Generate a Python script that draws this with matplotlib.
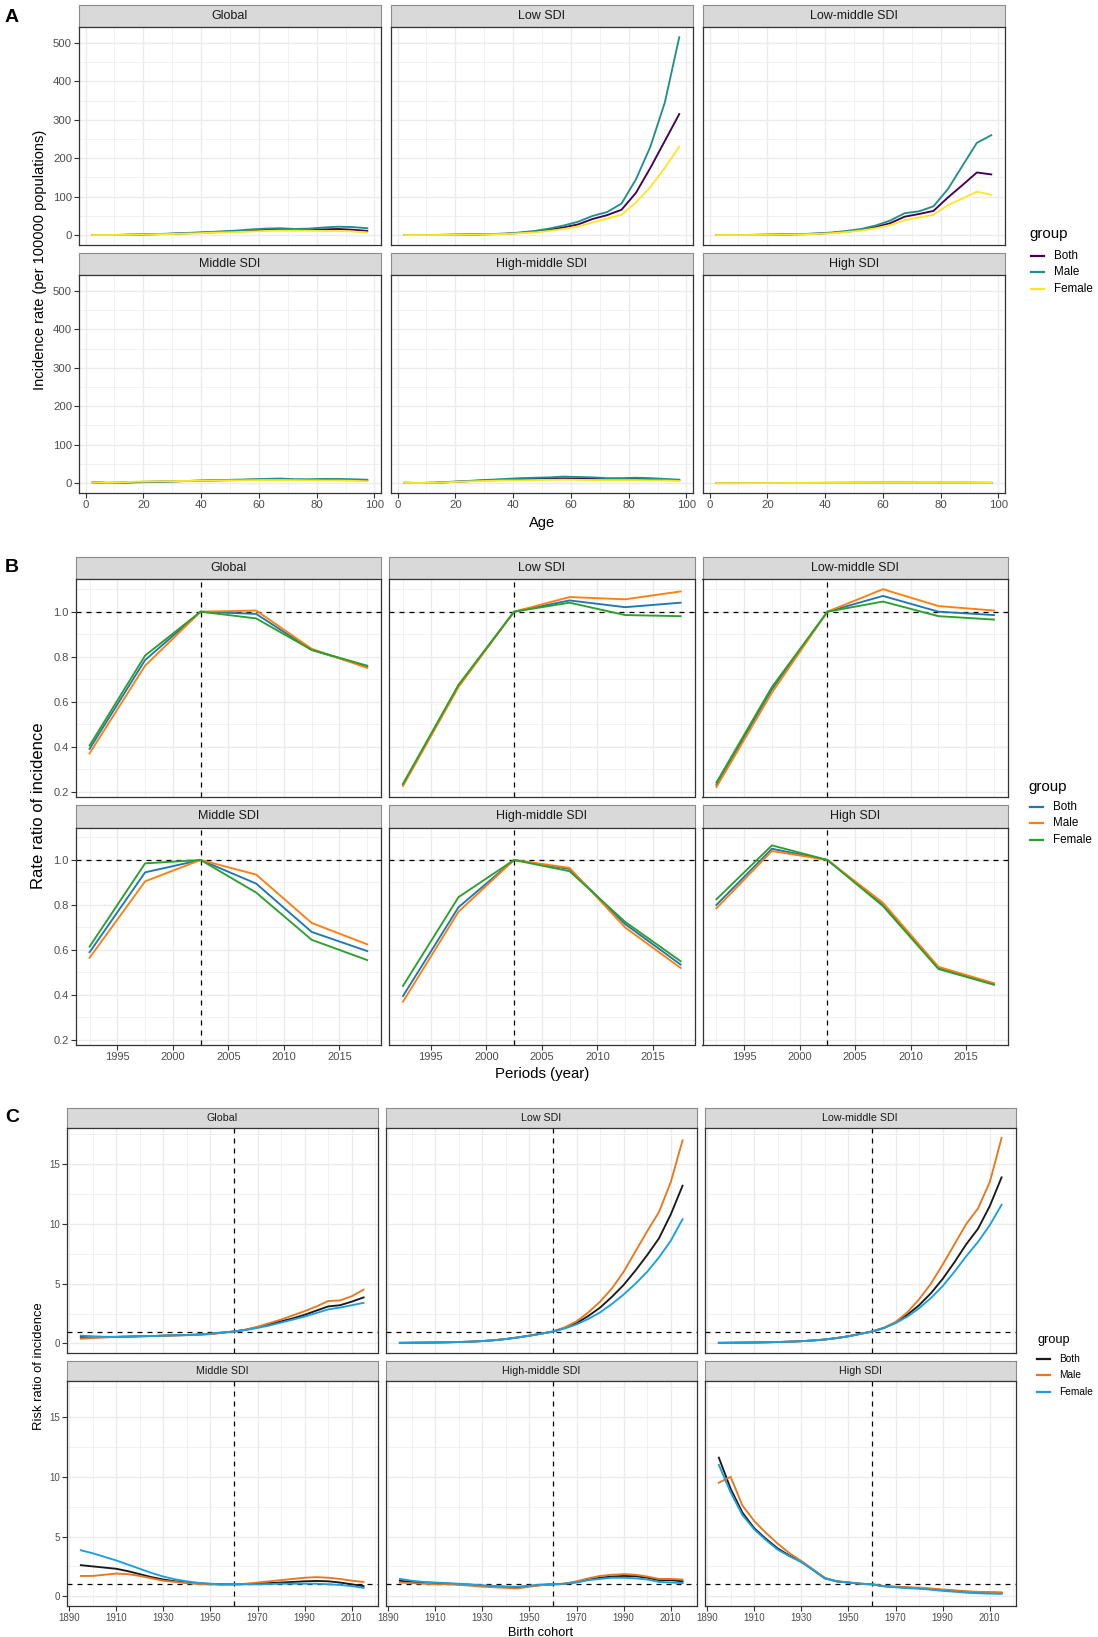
import matplotlib
matplotlib.use("Agg")
import matplotlib.pyplot as plt
from matplotlib.lines import Line2D
import numpy as np

plt.rcParams['font.family'] = ['Liberation Sans', 'DejaVu Sans']

# ---------------- data ----------------
regions = ["Global", "Low SDI", "Low-middle SDI", "Middle SDI", "High-middle SDI", "High SDI"]
groups = ["Both", "Male", "Female"]

# A: incidence rate by age
ages = [2.5 + 5 * i for i in range(20)]
a_global_both = [0.3, 0.3, 0.7, 1.3, 2.2, 3.0, 4.2, 5.5, 7.0, 8.5, 10, 12, 13.5, 15, 14, 14, 15, 16, 14, 11]
a_global_male = [0.3, 0.3, 0.8, 1.5, 2.5, 3.5, 5.0, 6.5, 8.0, 10, 12, 15, 17, 18, 16, 17, 20, 22, 21, 18]
a_global_female = [0.3, 0.3, 0.6, 1.2, 2.0, 2.7, 3.5, 4.5, 6.0, 7.0, 8.0, 9.5, 11, 12, 11.5, 11.5, 11, 11, 9.5, 7]
a_low_both = [0.4, 0.3, 0.4, 0.8, 1.3, 1.8, 2.7, 3.6, 6.0, 9.0, 14, 20, 28, 42, 52, 66, 110, 175, 245, 315]
a_low_male = [0.5, 0.3, 0.5, 1.0, 1.5, 2.0, 3.0, 4.0, 7.0, 11, 17, 25, 35, 50, 60, 82, 145, 230, 345, 515]
a_low_female = [0.3, 0.2, 0.3, 0.6, 1.0, 1.5, 2.3, 3.0, 5.0, 7.0, 11, 16, 22, 33, 43, 53, 85, 125, 175, 230]
a_lowmid_both = [0.3, 0.2, 0.4, 0.8, 1.3, 1.9, 2.6, 3.8, 6, 9, 14, 21, 31, 48, 55, 63, 98, 130, 163, 158]
a_lowmid_male = [0.4, 0.3, 0.5, 1.0, 1.5, 2.2, 3.0, 4.5, 7, 11, 16, 25, 38, 57, 62, 75, 120, 180, 240, 260]
a_lowmid_female = [0.3, 0.2, 0.3, 0.7, 1.1, 1.6, 2.2, 3.2, 5, 8, 12, 18, 26, 39, 46, 53, 78, 95, 113, 105]
a_mid_both = [2.0, 0.8, 1.4, 3.0, 3.8, 4.5, 5.2, 6.0, 6.8, 7.5, 8.0, 8.8, 9.5, 10, 8.8, 8.5, 9, 9, 8, 7]
a_mid_male = [2.0, 0.5, 0.8, 2.0, 3.0, 4.0, 5.0, 6.0, 7.0, 8.0, 9.0, 10, 11, 12, 10, 10, 11, 11, 10, 9]
a_mid_female = [2.0, 1.0, 2.0, 4.0, 4.5, 5.0, 5.5, 6.0, 6.5, 7.0, 7.0, 7.5, 8.0, 8.0, 7.5, 7.0, 7, 7, 6, 5]
a_highmid_both = [0.8, 0.4, 1.0, 2.5, 4.5, 6.0, 7.5, 9.0, 10, 11, 12, 12.5, 12, 11.5, 10.5, 10.5, 11, 10, 9, 7]
a_highmid_male = [1.0, 0.5, 1.0, 3.0, 5.0, 7.0, 9.0, 11, 13, 14, 15, 17, 16, 15, 13, 13, 14, 13, 11, 9]
a_highmid_female = [0.7, 0.3, 0.9, 2.3, 4.0, 5.0, 6.0, 7.0, 7.5, 8.0, 8.5, 9.0, 8.5, 8.0, 8.0, 8.0, 8.0, 7.5, 7, 5.5]
a_high_both = [0.1, 0.1, 0.15, 0.25, 0.35, 0.4, 0.5, 0.6, 0.7, 0.8, 0.85, 0.9, 0.95, 0.95, 0.9, 0.9, 0.9, 0.85, 0.8, 0.7]
a_high_male = [0.1, 0.1, 0.2, 0.3, 0.4, 0.5, 0.6, 0.7, 0.8, 0.9, 1.0, 1.1, 1.1, 1.1, 1.0, 1.0, 1.0, 1.0, 0.9, 0.8]
a_high_female = [0.1, 0.1, 0.1, 0.2, 0.3, 0.35, 0.4, 0.5, 0.6, 0.7, 0.7, 0.75, 0.8, 0.8, 0.8, 0.8, 0.8, 0.75, 0.7, 0.6]

# B: period rate ratio
periods = [1992.5, 1997.5, 2002.5, 2007.5, 2012.5, 2017.5]
b_global_both = [0.39, 0.785, 1.0, 0.99, 0.83, 0.755]
b_global_male = [0.37, 0.76, 1.0, 1.005, 0.835, 0.75]
b_global_female = [0.405, 0.805, 1.0, 0.97, 0.83, 0.76]
b_low_both = [0.23, 0.67, 1.0, 1.05, 1.02, 1.04]
b_low_male = [0.225, 0.665, 1.0, 1.065, 1.055, 1.09]
b_low_female = [0.235, 0.675, 1.0, 1.04, 0.985, 0.98]
b_lowmid_both = [0.23, 0.655, 1.0, 1.07, 1.0, 0.985]
b_lowmid_male = [0.22, 0.64, 1.0, 1.10, 1.025, 1.005]
b_lowmid_female = [0.24, 0.665, 1.0, 1.045, 0.98, 0.965]
b_mid_both = [0.59, 0.945, 1.0, 0.895, 0.68, 0.595]
b_mid_male = [0.565, 0.905, 1.0, 0.935, 0.72, 0.625]
b_mid_female = [0.615, 0.985, 1.0, 0.855, 0.645, 0.555]
b_highmid_both = [0.395, 0.79, 1.0, 0.96, 0.715, 0.535]
b_highmid_male = [0.37, 0.77, 1.0, 0.965, 0.70, 0.52]
b_highmid_female = [0.44, 0.835, 1.0, 0.95, 0.725, 0.55]
b_high_both = [0.80, 1.05, 1.0, 0.80, 0.52, 0.45]
b_high_male = [0.785, 1.04, 1.0, 0.81, 0.525, 0.452]
b_high_female = [0.825, 1.065, 1.0, 0.795, 0.515, 0.445]

# C: cohort risk ratio
cohorts = [1895 + 5 * i for i in range(25)]
c_global_both = [0.55, 0.55, 0.55, 0.55, 0.57, 0.6, 0.62, 0.65, 0.68, 0.7, 0.75, 0.8, 0.9, 1.0, 1.15, 1.35, 1.6, 1.85, 2.1, 2.4, 2.75, 3.1, 3.2, 3.5, 3.85]
c_global_male = [0.4, 0.45, 0.5, 0.55, 0.57, 0.6, 0.62, 0.65, 0.68, 0.7, 0.72, 0.78, 0.9, 1.0, 1.15, 1.4, 1.7, 2.0, 2.35, 2.7, 3.1, 3.55, 3.6, 3.95, 4.5]
c_global_female = [0.65, 0.6, 0.55, 0.55, 0.57, 0.6, 0.62, 0.65, 0.68, 0.7, 0.75, 0.82, 0.92, 1.0, 1.12, 1.3, 1.5, 1.75, 2.0, 2.25, 2.55, 2.85, 3.0, 3.2, 3.4]
c_low_both = [0.05, 0.06, 0.07, 0.08, 0.1, 0.12, 0.15, 0.2, 0.27, 0.37, 0.5, 0.65, 0.82, 1.0, 1.3, 1.7, 2.3, 3.0, 3.9, 4.9, 6.1, 7.4, 8.8, 10.8, 13.2]
c_low_male = [0.05, 0.06, 0.07, 0.08, 0.1, 0.12, 0.15, 0.2, 0.27, 0.37, 0.5, 0.65, 0.82, 1.0, 1.35, 1.85, 2.6, 3.5, 4.6, 6.0, 7.7, 9.4, 11.0, 13.5, 17.0]
c_low_female = [0.05, 0.06, 0.07, 0.08, 0.1, 0.12, 0.15, 0.2, 0.27, 0.37, 0.5, 0.65, 0.82, 1.0, 1.25, 1.6, 2.05, 2.6, 3.3, 4.1, 5.0, 6.0, 7.2, 8.6, 10.4]
c_lowmid_both = [0.05, 0.06, 0.07, 0.08, 0.1, 0.12, 0.15, 0.19, 0.25, 0.33, 0.45, 0.6, 0.8, 1.0, 1.3, 1.75, 2.4, 3.2, 4.2, 5.4, 6.8, 8.3, 9.6, 11.5, 13.9]
c_lowmid_male = [0.05, 0.06, 0.07, 0.08, 0.1, 0.12, 0.15, 0.19, 0.25, 0.33, 0.45, 0.6, 0.8, 1.0, 1.3, 1.8, 2.6, 3.7, 5.0, 6.6, 8.3, 10.0, 11.3, 13.5, 17.2]
c_lowmid_female = [0.05, 0.06, 0.07, 0.08, 0.1, 0.12, 0.15, 0.19, 0.25, 0.33, 0.45, 0.6, 0.8, 1.0, 1.28, 1.7, 2.25, 2.95, 3.8, 4.8, 6.0, 7.3, 8.5, 9.9, 11.6]
c_mid_both = [2.6, 2.5, 2.4, 2.3, 2.1, 1.85, 1.6, 1.4, 1.25, 1.15, 1.08, 1.03, 1.0, 1.0, 1.02, 1.05, 1.1, 1.15, 1.2, 1.25, 1.28, 1.25, 1.15, 1.0, 0.85]
c_mid_male = [1.7, 1.7, 1.8, 1.9, 1.85, 1.7, 1.5, 1.3, 1.2, 1.1, 1.02, 0.98, 0.97, 1.0, 1.05, 1.15, 1.25, 1.35, 1.45, 1.55, 1.6, 1.55, 1.45, 1.3, 1.2]
c_mid_female = [3.85, 3.6, 3.3, 3.0, 2.65, 2.3, 1.95, 1.65, 1.42, 1.25, 1.12, 1.05, 1.0, 1.0, 1.0, 1.0, 1.02, 1.05, 1.05, 1.05, 1.05, 1.0, 0.95, 0.85, 0.7]
c_highmid_both = [1.3, 1.2, 1.15, 1.1, 1.05, 1.0, 0.95, 0.88, 0.82, 0.78, 0.75, 0.85, 0.95, 1.0, 1.05, 1.2, 1.4, 1.55, 1.65, 1.7, 1.68, 1.55, 1.35, 1.35, 1.25]
c_highmid_male = [1.15, 1.1, 1.05, 1.0, 1.0, 0.95, 0.88, 0.8, 0.75, 0.7, 0.65, 0.8, 0.92, 1.0, 1.05, 1.25, 1.5, 1.7, 1.8, 1.85, 1.8, 1.65, 1.45, 1.45, 1.4]
c_highmid_female = [1.45, 1.3, 1.2, 1.15, 1.1, 1.05, 1.0, 0.92, 0.85, 0.82, 0.8, 0.88, 0.97, 1.0, 1.05, 1.15, 1.35, 1.45, 1.55, 1.55, 1.5, 1.4, 1.2, 1.15, 1.1]
c_high_both = [11.6, 9.0, 7.0, 5.7, 4.8, 4.0, 3.4, 2.9, 2.2, 1.5, 1.25, 1.15, 1.05, 1.0, 0.85, 0.78, 0.72, 0.68, 0.6, 0.52, 0.45, 0.38, 0.32, 0.3, 0.28]
c_high_male = [9.5, 10.0, 7.6, 6.3, 5.3, 4.4, 3.6, 2.95, 2.25, 1.55, 1.25, 1.15, 1.05, 1.0, 0.85, 0.8, 0.75, 0.72, 0.65, 0.57, 0.5, 0.42, 0.37, 0.35, 0.33]
c_high_female = [11.0, 8.7, 6.8, 5.6, 4.7, 3.9, 3.35, 2.85, 2.2, 1.5, 1.25, 1.15, 1.05, 1.0, 0.83, 0.75, 0.68, 0.63, 0.55, 0.45, 0.38, 0.3, 0.25, 0.22, 0.2]

a_series = [
    [a_global_both, a_global_male, a_global_female],
    [a_low_both, a_low_male, a_low_female],
    [a_lowmid_both, a_lowmid_male, a_lowmid_female],
    [a_mid_both, a_mid_male, a_mid_female],
    [a_highmid_both, a_highmid_male, a_highmid_female],
    [a_high_both, a_high_male, a_high_female],
]
b_series = [
    [b_global_both, b_global_male, b_global_female],
    [b_low_both, b_low_male, b_low_female],
    [b_lowmid_both, b_lowmid_male, b_lowmid_female],
    [b_mid_both, b_mid_male, b_mid_female],
    [b_highmid_both, b_highmid_male, b_highmid_female],
    [b_high_both, b_high_male, b_high_female],
]
c_series = [
    [c_global_both, c_global_male, c_global_female],
    [c_low_both, c_low_male, c_low_female],
    [c_lowmid_both, c_lowmid_male, c_lowmid_female],
    [c_mid_both, c_mid_male, c_mid_female],
    [c_highmid_both, c_highmid_male, c_highmid_female],
    [c_high_both, c_high_male, c_high_female],
]

a_colors = ["#440154", "#21908C", "#FDE725"]
b_colors = ["#1F77B4", "#FF7F0E", "#2CA02C"]
c_colors = ["#1A1A1A", "#E8781E", "#1B9FE0"]

# ---------------- figure ----------------
W, H = 1098, 1637
fig = plt.figure(figsize=(W / 100, H / 100), dpi=100)
fig.patch.set_facecolor("white")

GRID = "#EBEBEB"
BORDER = "#333333"


def px_axes(x0, y0, x1, y1):
    return fig.add_axes([x0 / W, 1 - y1 / H, (x1 - x0) / W, (y1 - y0) / H])


def expand(vals, mult=0.05):
    lo, hi = min(vals), max(vals)
    d = (hi - lo) * mult
    return lo - d, hi + d


def draw_block(x, series, colors, layout, xmaj, xmin, ymaj, ymin, yfmt,
               tick_fs, strip_fs, refx=None, refy=None):
    allv = [v for reg in series for s in reg for v in s]
    ylim = expand(allv)
    xlim = expand(x)
    left, top, w, gap, strip_h, plot_h, rowgap = layout
    for i, region in enumerate(regions):
        r, c = divmod(i, 3)
        x0 = left + c * (w + gap)
        x1 = x0 + w
        sy0 = top + r * (strip_h + plot_h + rowgap)
        sy1 = sy0 + strip_h
        py1 = sy1 + plot_h

        st = px_axes(x0, sy0, x1, sy1)
        st.set_facecolor("#D9D9D9")
        st.set_xticks([])
        st.set_yticks([])
        for sp in st.spines.values():
            sp.set_color("#8C8C8C")
            sp.set_linewidth(0.8)
        st.text(0.5, 0.5, region, ha="center", va="center", fontsize=strip_fs,
                color="#1A1A1A", transform=st.transAxes)

        ax = px_axes(x0, sy1, x1, py1)
        ax.set_xlim(xlim)
        ax.set_ylim(ylim)
        ax.set_xticks(xmaj)
        ax.set_xticks(xmin, minor=True)
        ax.set_yticks(ymaj)
        ax.set_yticks(ymin, minor=True)
        ax.set_yticklabels([yfmt(v) for v in ymaj])
        ax.grid(True, which="major", color=GRID, lw=1.0)
        ax.grid(True, which="minor", color=GRID, lw=0.5)
        ax.set_axisbelow(True)
        ax.tick_params(which="minor", length=0)
        ax.tick_params(which="major", length=3.5, width=0.8, color=BORDER,
                       labelsize=tick_fs, labelcolor="#4D4D4D", pad=1.5)
        if c != 0:
            ax.tick_params(which="major", left=False, labelleft=False)
        if r != 1:
            ax.tick_params(which="major", bottom=False, labelbottom=False)
        for sp in ax.spines.values():
            sp.set_color(BORDER)
            sp.set_linewidth(0.9)

        if refx is not None:
            ax.axvline(refx, color="black", lw=0.9, ls=(0, (4, 4)), zorder=2)
        if refy is not None:
            ax.axhline(refy, color="black", lw=0.9, ls=(0, (4, 4)), zorder=2)
        for s, col in zip(series[i], colors):
            ax.plot(x, s, color=col, lw=1.35, zorder=3, solid_joinstyle="round")


def legend(colors, title_xy, key_x0, key_x1, text_x, entry_ys, title_fs, fs):
    fig.text(title_xy[0] / W, 1 - title_xy[1] / H, "group", fontsize=title_fs,
             ha="left", va="center", color="black")
    for g, col, y in zip(groups, colors, entry_ys):
        fig.add_artist(Line2D([key_x0 / W, key_x1 / W], [1 - y / H, 1 - y / H],
                              color=col, lw=1.6, transform=fig.transFigure))
        fig.text(text_x / W, 1 - y / H, g, fontsize=fs, ha="left", va="center",
                 color="black")


# ---------- A ----------
draw_block(ages, a_series, a_colors, (79, 5, 302, 10, 22.3, 217.7, 8),
           [0, 20, 40, 60, 80, 100], [10, 30, 50, 70, 90],
           [0, 100, 200, 300, 400, 500], [50, 150, 250, 350, 450],
           lambda v: f"{v:g}", 8.2, 9)
fig.text(5 / W, 1 - 18 / H, "A", fontsize=14, fontweight="bold", va="center", ha="left")
fig.text(40 / W, 1 - 260 / H, "Incidence rate (per 100000 populations)", rotation=90,
         ha="center", va="center", fontsize=10.5)
fig.text(542 / W, 1 - 523 / H, "Age", ha="center", va="center", fontsize=10.5)
legend(a_colors, (1029, 234), 1031, 1044, 1054, [256, 272, 289], 10.8, 8.4)

# ---------- B ----------
draw_block(periods, b_series, b_colors, (75.7, 556.7, 305.4, 8, 22.6, 217.7, 8),
           [1995, 2000, 2005, 2010, 2015], [1992.5, 1997.5, 2002.5, 2007.5, 2012.5, 2017.5],
           [0.2, 0.4, 0.6, 0.8, 1.0], [0.3, 0.5, 0.7, 0.9, 1.1],
           lambda v: f"{v:.1f}", 8, 9, refx=2002.5, refy=1.0)
fig.text(5 / W, 1 - 568 / H, "B", fontsize=14, fontweight="bold", va="center", ha="left")
fig.text(39 / W, 1 - 806 / H, "Rate ratio of incidence", rotation=90,
         ha="center", va="center", fontsize=12)
fig.text(542 / W, 1 - 1074 / H, "Periods (year)", ha="center", va="center", fontsize=10.8)
legend(b_colors, (1028, 787), 1030, 1043, 1053, [807, 823, 840], 10.8, 8.4)

# ---------- C ----------
draw_block(cohorts, c_series, c_colors, (66.7, 1108.3, 311, 8, 19.4, 225.4, 8),
           [1890, 1910, 1930, 1950, 1970, 1990, 2010], [1900, 1920, 1940, 1960, 1980, 2000, 2020],
           [0, 5, 10, 15], [2.5, 7.5, 12.5, 17.5],
           lambda v: f"{v:g}", 7, 7.7, refx=1960, refy=1.0)
fig.text(5 / W, 1 - 1117 / H, "C", fontsize=14, fontweight="bold", va="center", ha="left")
fig.text(39 / W, 1 - 1366 / H, "Risk ratio of incidence", rotation=90,
         ha="center", va="center", fontsize=9.4)
fig.text(541 / W, 1 - 1633 / H, "Birth cohort", ha="center", va="center", fontsize=9.2)
legend(c_colors, (1037, 1340), 1037, 1050, 1059, [1359, 1375, 1392], 9.2, 7.3)

fig.savefig("out.png", dpi=100)
